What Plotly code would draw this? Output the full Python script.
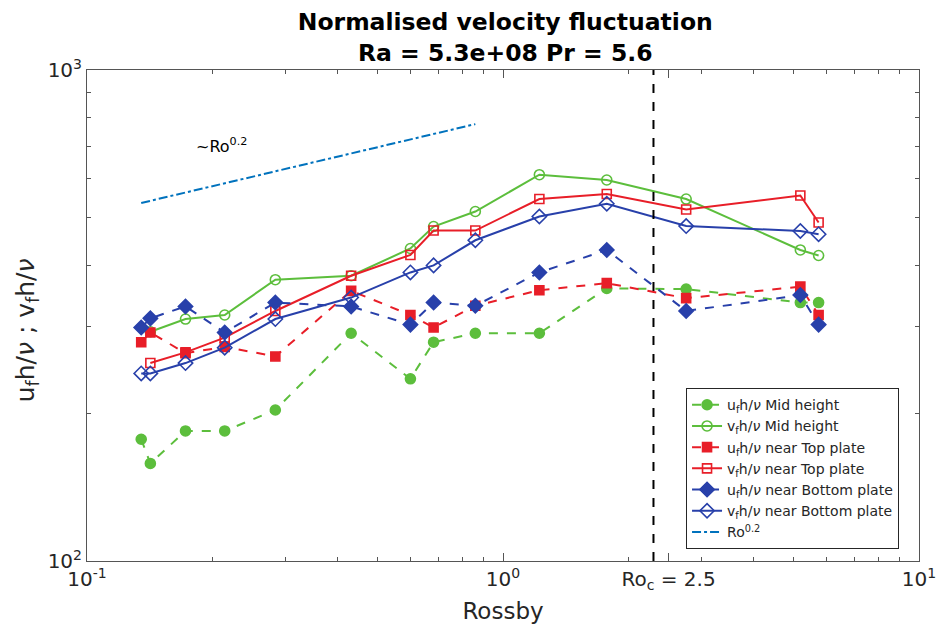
import numpy as np
import plotly.graph_objects as go

# Rossby numbers of the runs
rossby = [0.135, 0.142, 0.1725, 0.2143, 0.2836, 0.4315, 0.599, 0.681,
          0.858, 1.223, 1.776, 2.756, 5.185, 5.737]

# Normalised fluctuations (u_f h/nu and v_f h/nu) at three heights
u_mid = [177, 158, 184, 184, 203, 291, 235, 279, 291, 291, 359, 358, 336, 336]
v_mid = [None, 293, 311, 317, 374, 381, 433, 480, 515, 612, 597, 546, 430, 419]
u_top = [279, 292, 265, 273, 261, 355, 317, 299, 331, 356, 368, 343, 362, 317]
v_top = [None, 253, 266, 285, 323, 381, 420, 471, 471, 546, 559, 520, 555, 489]
u_bot = [299, 312, 330, 292, 336, 330, 303, 336, 331, 387, 430, 323, 348, 303]
v_bot = [241, 241, 253, 272, 311, 344, 387, 400, 450, 503, 534, 481, 470, 463]

# Reference power law ~ Ro^0.2
law_exp = 0.2
law_coef = 800
law_range = [0.135, 0.858]

# Transition Rossby number
ro_c_tick = 2.5
ro_c_line = 2.3

GREEN = "rgb(92,190,60)"
RED = "rgb(232,30,40)"
BLUE = "rgb(40,64,170)"
LAWC = "rgb(0,114,189)"
INK = "#262626"
FONT = "DejaVu Sans"

nu = "<i>ν</i>"
sp = "\u00a0"

fig = go.Figure()

def add(y, name, color, symbol, dash, size):
    fig.add_trace(go.Scatter(
        x=rossby, y=y, name=name, mode="lines+markers",
        line=dict(color=color, width=2, dash=dash),
        marker=dict(symbol=symbol, size=size, color=color,
                    line=dict(color=color, width=1.6)),
    ))

add(u_mid, f"u<sub>f</sub>h/{nu} Mid height", GREEN, "circle", "dash", 10)
add(v_mid, f"v<sub>f</sub>h/{nu} Mid height", GREEN, "circle-open", "solid", 10)
add(u_top, f"u<sub>f</sub>h/{nu} near Top plate", RED, "square", "dash", 9)
add(v_top, f"v<sub>f</sub>h/{nu} near Top plate", RED, "square-open", "solid", 9)
add(u_bot, f"u<sub>f</sub>h/{nu} near Bottom plate", BLUE, "diamond", "dash", 11)
add(v_bot, f"v<sub>f</sub>h/{nu} near Bottom plate", BLUE, "diamond-open", "solid", 11)

law_x = np.logspace(np.log10(law_range[0]), np.log10(law_range[1]), 50)
fig.add_trace(go.Scatter(
    x=law_x, y=law_coef * law_x ** law_exp, name="Ro<sup>0.2</sup>",
    mode="lines", line=dict(color=LAWC, width=2, dash="dashdot"),
))

fig.add_shape(type="line", xref="x", yref="paper", x0=ro_c_line, x1=ro_c_line,
              y0=0, y1=1, line=dict(color="black", width=2, dash="dash"))

fig.add_annotation(x=np.log10(0.211), y=np.log10(703), xref="x", yref="y",
                   text="~Ro<sup>0.2</sup>", showarrow=False,
                   font=dict(family=FONT, size=16, color="black"))

# y-axis label
fig.add_annotation(x=-0.072, y=0.47, xref="paper", yref="paper",
                   text=f"u<sub>f</sub>h/{nu}{sp};{sp}v<sub>f</sub>h/{nu}",
                   textangle=-90, showarrow=False, xanchor="center",
                   yanchor="middle",
                   font=dict(family=FONT, size=25, color=INK))

x_minor = [m * 10 ** e for e in (-1, 0) for m in range(2, 10)]
y_minor = [m * 100 for m in range(2, 10)]

fig.update_layout(
    width=940, height=628,
    margin=dict(l=87, r=21, t=70, b=67, autoexpand=False),
    paper_bgcolor="white", plot_bgcolor="white",
    font=dict(family=FONT, color=INK),
    title=dict(text="<b>Normalised velocity fluctuation<br>Ra = 5.3e+08 Pr = 5.6</b>",
               x=0.5375, xanchor="center", y=0.952, yanchor="middle",
               font=dict(family=FONT, size=23.5, color="black")),
    showlegend=True,
    legend=dict(x=0.72, y=0.352, xanchor="left", yanchor="top",
                bgcolor="white", bordercolor=INK, borderwidth=1,
                font=dict(family=FONT, size=14, color=INK),
                tracegroupgap=0, itemwidth=30),
    xaxis=dict(
        type="log", range=[-1, 1], showgrid=False, zeroline=False,
        showline=True, linecolor="#555555", linewidth=1, mirror="ticks",
        ticks="inside", ticklen=8, tickcolor="#555555", automargin=False,
        tickmode="array", tickvals=[0.1, 1, ro_c_tick, 10],
        ticktext=["10<sup>-1</sup>", "10<sup>0</sup>",
                  "Ro<sub>c</sub> = 2.5", "10<sup>1</sup>"],
        tickfont=dict(family=FONT, size=20, color=INK),
        minor=dict(ticks="inside", ticklen=4, tickcolor="#555555",
                   tickmode="array", tickvals=x_minor),
        title=dict(text="Rossby", font=dict(family=FONT, size=23, color=INK),
                   standoff=10),
    ),
    yaxis=dict(
        type="log", range=[2, 3], showgrid=False, zeroline=False,
        showline=True, linecolor="#555555", linewidth=1, mirror="ticks",
        ticks="inside", ticklen=8, tickcolor="#555555", automargin=False,
        tickmode="array", tickvals=[100, 1000],
        ticktext=["10<sup>2</sup>", "10<sup>3</sup>"],
        tickfont=dict(family=FONT, size=20, color=INK),
        minor=dict(ticks="inside", ticklen=4, tickcolor="#555555",
                   tickmode="array", tickvals=y_minor),
    ),
)

fig.write_html("out.html")
